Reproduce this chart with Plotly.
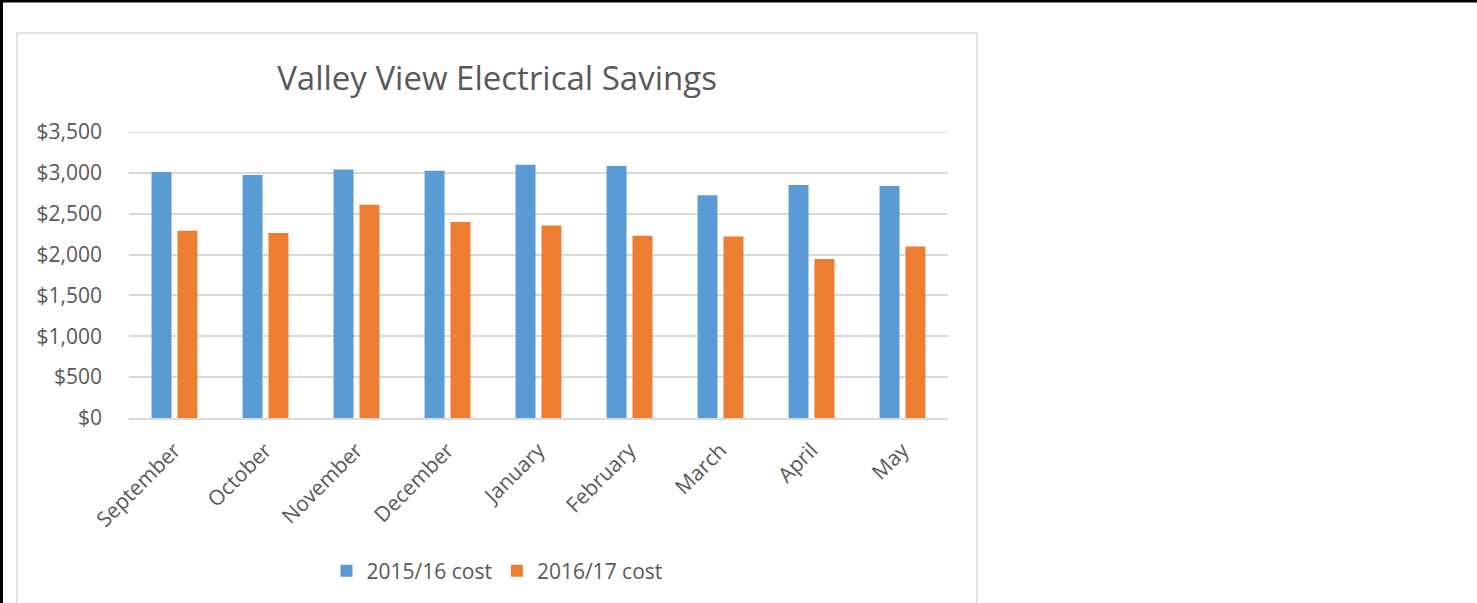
import plotly.graph_objects as go

months = ["September", "October", "November", "December", "January",
          "February", "March", "April", "May"]
cost_2015_16 = [3010, 2975, 3040, 3025, 3100, 3085, 2725, 2850, 2840]
cost_2016_17 = [2290, 2265, 2610, 2400, 2355, 2230, 2220, 1945, 2100]
y_ticks = [0, 500, 1000, 1500, 2000, 2500, 3000, 3500]
y_tick_labels = ["$0", "$500", "$1,000", "$1,500", "$2,000", "$2,500", "$3,000", "$3,500"]

W, H = 1477, 603
L, R, T, B = 129, 948, 132, 418
FONT = "Open Sans"
GREY = "#595959"
Y_MAX = 3500

fig = go.Figure()
fig.add_trace(go.Bar(x=months, y=cost_2015_16, name="2015/16 cost",
                     marker=dict(color="#5B9BD5", line=dict(width=0))))
fig.add_trace(go.Bar(x=months, y=cost_2016_17, name="2016/17 cost",
                     marker=dict(color="#ED7D31", line=dict(width=0))))

def px_x(p):
    return (p - L) / (R - L)

def px_y(p):
    return (B - p) / (B - T)

shapes = [
    # inner chart border (light grey)
    dict(type="rect", xref="paper", yref="paper",
         x0=px_x(17), x1=px_x(977), y0=px_y(620), y1=px_y(33),
         line=dict(color="#D9D9D9", width=1.5), layer="below"),
    # outer black frame: top and left
    dict(type="line", xref="paper", yref="paper",
         x0=px_x(0), x1=px_x(W), y0=px_y(1), y1=px_y(1),
         line=dict(color="black", width=3)),
    dict(type="line", xref="paper", yref="paper",
         x0=px_x(1.5), x1=px_x(1.5), y0=px_y(0), y1=px_y(H),
         line=dict(color="black", width=3)),
    # top gridline ($3,500) drawn in data coordinates so it is not clipped
    dict(type="line", xref="paper", yref="y",
         x0=0, x1=1, y0=Y_MAX, y1=Y_MAX,
         line=dict(color="#D9D9D9", width=1.5), layer="below"),
]

fig.update_layout(
    width=W, height=H,
    margin=dict(l=L, r=W - R, t=T, b=H - B, autoexpand=False),
    paper_bgcolor="white", plot_bgcolor="white",
    barmode="group", bargap=0.43, bargroupgap=0.23,
    font=dict(family=FONT, color=GREY, size=21),
    title=dict(text="Valley View Electrical Savings",
               font=dict(family=FONT, size=33, color=GREY),
               x=497 / W, xanchor="center", xref="container",
               y=1 - 78 / H, yanchor="middle", yref="container"),
    showlegend=True,
    legend=dict(orientation="h", xref="container", yref="container",
                x=497 / W, xanchor="center", y=1 - 571 / H, yanchor="middle",
                font=dict(family=FONT, size=21, color=GREY),
                itemsizing="constant", traceorder="normal",
                bgcolor="rgba(0,0,0,0)"),
    xaxis=dict(showgrid=False, showline=True, linecolor="#D9D9D9", linewidth=1.5,
               tickangle=-45, ticks="", ticklabelstandoff=10,
               tickfont=dict(family=FONT, size=21, color=GREY)),
    yaxis=dict(range=[0, Y_MAX], tickvals=y_ticks, ticktext=y_tick_labels,
               showgrid=True, gridcolor="#D9D9D9", gridwidth=1.5,
               zeroline=False, showline=False, ticks="",
               ticklabelstandoff=26,
               tickfont=dict(family=FONT, size=21, color=GREY)),
    shapes=shapes,
)

fig.write_html("out.html", config={"displayModeBar": False},
               post_script="document.body.style.margin='0';document.body.style.overflow='hidden';")
